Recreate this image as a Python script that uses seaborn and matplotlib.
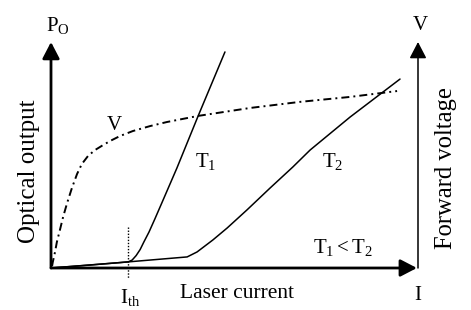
import matplotlib
matplotlib.use("Agg")
import matplotlib.pyplot as plt
import seaborn as sns
import pandas as pd

# ---- data (current in % of axis, output/voltage in % of axis) ----
t1_current = [0, 10.6, 21.0, 22.1, 23.2, 24.3, 25.3, 26.7, 28.3, 30.2, 34.3, 40.1, 47.4]
t1_output = [0, 1.3, 2.7, 3.5, 5.5, 8.2, 11.5, 15.9, 21.7, 28.8, 44.2, 67.3, 95.6]

t2_current = [0, 18.8, 37.1, 39.8, 44.1, 48.0, 53.4, 59.7, 65.9, 70.6, 81.5, 95.1]
t2_output = [0, 2.4, 4.9, 7.1, 12.4, 17.7, 25.7, 35.4, 44.7, 52.2, 66.8, 83.6]

v_current = [0.3, 0.5, 1.1, 1.6, 2.5, 3.3, 4.4, 5.7, 7.1, 8.4, 10.1, 12.0, 14.2, 16.1,
             18.8, 22.3, 27.0, 31.6, 40.1, 54.2, 67.8, 81.5, 94.3]
v_voltage = [0.9, 2.7, 7.1, 11.5, 17.3, 22.6, 28.8, 35.4, 41.6, 46.0, 49.6, 52.2, 54.4, 56.2,
             58.4, 60.6, 62.8, 64.6, 67.3, 70.8, 73.5, 75.7, 78.3]

ith_current = [21.0, 21.0]
ith_span = [18.1, -4.4]

sns.set_theme(style="white")
plt.rcParams['font.family'] = ['Liberation Serif', 'DejaVu Serif']
plt.rcParams['mathtext.fontset'] = 'custom'
plt.rcParams['mathtext.rm'] = 'Liberation Serif'
plt.rcParams['mathtext.it'] = 'Liberation Serif:italic'

W, H = 471, 310
fig = plt.figure(figsize=(W / 100, H / 100), dpi=100)
x0, x1, y0, y1 = 51, 418, 268, 42
ax = fig.add_axes([x0 / W, (H - y0) / H, (x1 - x0) / W, (y0 - y1) / H])
ax.set_xlim(0, 100)
ax.set_ylim(0, 100)
ax.axis('off')

df1 = pd.DataFrame({"I": t1_current, "P": t1_output})
df2 = pd.DataFrame({"I": t2_current, "P": t2_output})
dfv = pd.DataFrame({"I": v_current, "V": v_voltage})

sns.lineplot(data=df1, x="I", y="P", sort=False, estimator=None, color="black", linewidth=1.1, ax=ax)
sns.lineplot(data=df2, x="I", y="P", sort=False, estimator=None, color="black", linewidth=1.1, ax=ax)
sns.lineplot(data=dfv, x="I", y="V", sort=False, estimator=None, color="black", linewidth=1.4, ax=ax)
ax.lines[-1].set_dashes((4.1, 2.1, 1.0, 2.1))
ax.plot(ith_current, ith_span, color="black", linestyle=(0, (1, 1.2)), linewidth=1.0, clip_on=False)
for ln in ax.lines:
    ln.set_clip_on(False)
    ln.set_solid_joinstyle('round')

# axes arrows
def arrow(xy_from, xy_to, lw):
    ax.annotate('', xy=xy_to, xytext=xy_from, xycoords='axes fraction', textcoords='axes fraction',
                arrowprops=dict(arrowstyle='-|>,head_length=1.0,head_width=0.52', mutation_scale=10,
                                color='black', lw=lw, shrinkA=0, shrinkB=0), annotation_clip=False)

arrow((0, 0), (0, 1), 2.0)
arrow((0, 0), (0.997, 0), 2.0)
arrow((1, 0), (1, 1), 1.1)

def ftext(px, py, s, size, rot=0):
    fig.text(px / W, (H - py) / H, s, fontsize=size, rotation=rot, ha='center', va='center', color='black')

ftext(58, 25, r'$\mathrm{P_O}$', 15)
ftext(420, 25, 'V', 15)
ftext(418, 296, 'I', 15)
ftext(130, 297, r'$\mathrm{I_{th}}$', 15)
ftext(237, 294, 'Laser current', 15.5)
ftext(29, 171, 'Optical output', 18, rot=90)
ftext(446, 168, 'Forward voltage', 17.7, rot=90)
ftext(114, 126, 'V', 15)
ftext(206, 161, r'$\mathrm{T_1}$', 15)
ftext(333, 161, r'$\mathrm{T_2}$', 15)
ftext(343, 248, r'$\mathrm{T_1 < T_2}$', 15)

fig.savefig("out.png", dpi=100)
